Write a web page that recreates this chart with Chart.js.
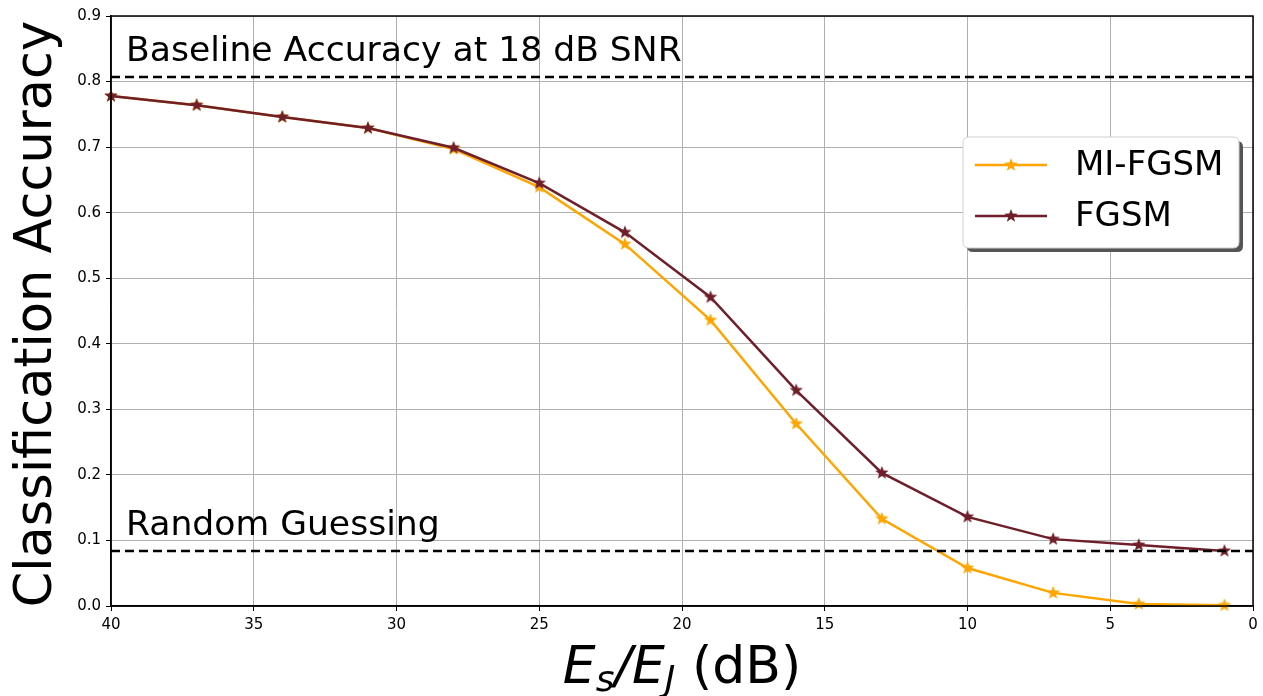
<!DOCTYPE html>
<html>
<head>
<meta charset="utf-8">
<script src="https://cdn.jsdelivr.net/npm/chart.js@4.4.0/dist/chart.umd.min.js"></script>
<style>
  html, body { margin: 0; padding: 0; background: #fff; }
  canvas { display: block; }
</style>
</head>
<body>
<canvas id="chart" width="1263" height="696"></canvas>
<script>
// values
const snrDb = [40, 37, 34, 31, 28, 25, 22, 19, 16, 13, 10, 7, 4, 1];
const miFgsm = [0.778, 0.764, 0.746, 0.729, 0.697, 0.639, 0.552, 0.436, 0.278, 0.133, 0.058, 0.020, 0.003, 0.001];
const fgsm = [0.778, 0.764, 0.746, 0.729, 0.699, 0.645, 0.570, 0.471, 0.329, 0.203, 0.136, 0.102, 0.093, 0.084];
const baselineAcc = 0.807;
const randomGuess = 1 / 12;

const ORANGE = '#ffa500';
const MAROON = '#6e1f2a';
const FONT = '"DejaVu Sans", sans-serif';

// filled five point star, like matplotlib's '*' marker
function starImage(color, r) {
  const size = Math.ceil(r * 2 + 2);
  const c = document.createElement('canvas');
  c.width = size;
  c.height = size;
  const g = c.getContext('2d');
  g.translate(size / 2, size / 2);
  g.beginPath();
  for (let i = 0; i < 10; i++) {
    const rad = i % 2 === 0 ? r : r * 0.42;
    const a = -Math.PI / 2 + i * Math.PI / 5;
    g.lineTo(rad * Math.cos(a), rad * Math.sin(a));
  }
  g.closePath();
  g.fillStyle = color;
  g.fill();
  return c;
}

const starOrange = starImage(ORANGE, 7);
const starMaroon = starImage(MAROON, 7);

const toPoints = ys => snrDb.map((x, i) => ({ x: x, y: ys[i] }));

/**
 * Extras that matplotlib draws and Chart.js does not:
 * reference lines with their captions, the closed frame,
 * the shadowed legend and the two axis titles.
 */
const decorations = {
  id: 'decorations',
  afterDatasetsDraw(chart) {
    const ctx = chart.ctx;
    const area = chart.chartArea;
    const ys = chart.scales.y;

    ctx.save();
    // dashed reference lines
    ctx.strokeStyle = '#000';
    ctx.lineWidth = 2.5;
    ctx.setLineDash([9, 5]);
    [baselineAcc, randomGuess].forEach(v => {
      const py = Math.round(ys.getPixelForValue(v));
      ctx.beginPath();
      ctx.moveTo(area.left, py);
      ctx.lineTo(area.right, py);
      ctx.stroke();
    });
    ctx.setLineDash([]);

    ctx.fillStyle = '#000';
    ctx.font = '34.6px ' + FONT;
    ctx.textAlign = 'left';
    ctx.textBaseline = 'alphabetic';
    ctx.fillText('Baseline Accuracy at 18 dB SNR', area.left + 15, ys.getPixelForValue(baselineAcc) - 16);
    ctx.fillText('Random Guessing', area.left + 15, ys.getPixelForValue(randomGuess) - 16);

    // frame
    ctx.lineWidth = 1.5;
    ctx.strokeStyle = '#000';
    ctx.strokeRect(area.left, area.top, area.right - area.left, area.bottom - area.top);

    // legend
    const lx = 963, ly = 137, lw = 276, lh = 111;
    ctx.fillStyle = '#555';
    roundRect(ctx, lx + 4, ly + 4, lw, lh, 6);
    ctx.fill();
    ctx.fillStyle = '#fff';
    ctx.strokeStyle = '#d0d0d0';
    ctx.lineWidth = 1;
    roundRect(ctx, lx, ly, lw, lh, 6);
    ctx.fill();
    ctx.stroke();

    const entries = [
      { label: 'MI-FGSM', color: ORANGE, star: starOrange, y: 165 },
      { label: 'FGSM', color: MAROON, star: starMaroon, y: 216 }
    ];
    ctx.font = '34px ' + FONT;
    ctx.textBaseline = 'middle';
    entries.forEach(e => {
      ctx.strokeStyle = e.color;
      ctx.lineWidth = 2.5;
      ctx.beginPath();
      ctx.moveTo(975, e.y);
      ctx.lineTo(1047, e.y);
      ctx.stroke();
      ctx.drawImage(e.star, 1011 - e.star.width / 2, e.y - e.star.height / 2);
      ctx.fillStyle = '#000';
      ctx.fillText(e.label, 1075, e.y + 1);
    });

    // y axis title
    ctx.save();
    ctx.translate(51, (area.top + area.bottom) / 2 + 3);
    ctx.rotate(-Math.PI / 2);
    ctx.font = '51px ' + FONT;
    ctx.textAlign = 'center';
    ctx.textBaseline = 'alphabetic';
    ctx.fillText('Classification Accuracy', 0, 0);
    ctx.restore();

    // x axis title: E_s/E_J (dB)
    const parts = [
      { t: 'E', font: 'italic 52px ' + FONT, dy: 0 },
      { t: 's', font: 'italic 36px ' + FONT, dy: 8 },
      { t: '/', font: 'italic 52px ' + FONT, dy: 0 },
      { t: 'E', font: 'italic 52px ' + FONT, dy: 0 },
      { t: 'J', font: 'italic 36px ' + FONT, dy: 8 },
      { t: ' (dB)', font: '52px ' + FONT, dy: 0 }
    ];
    let total = 0;
    parts.forEach(p => { ctx.font = p.font; p.w = ctx.measureText(p.t).width; total += p.w; });
    let x = (area.left + area.right) / 2 - total / 2;
    ctx.textAlign = 'left';
    ctx.textBaseline = 'alphabetic';
    parts.forEach(p => {
      ctx.font = p.font;
      ctx.fillText(p.t, x, 683 + p.dy);
      x += p.w;
    });
    ctx.restore();
  }
};

function roundRect(ctx, x, y, w, h, r) {
  ctx.beginPath();
  ctx.moveTo(x + r, y);
  ctx.lineTo(x + w - r, y);
  ctx.quadraticCurveTo(x + w, y, x + w, y + r);
  ctx.lineTo(x + w, y + h - r);
  ctx.quadraticCurveTo(x + w, y + h, x + w - r, y + h);
  ctx.lineTo(x + r, y + h);
  ctx.quadraticCurveTo(x, y + h, x, y + h - r);
  ctx.lineTo(x, y + r);
  ctx.quadraticCurveTo(x, y, x + r, y);
  ctx.closePath();
}

new Chart(document.getElementById('chart').getContext('2d'), {
  type: 'line',
  data: {
    datasets: [
      {
        label: 'MI-FGSM',
        data: toPoints(miFgsm),
        borderColor: ORANGE,
        backgroundColor: ORANGE,
        borderWidth: 2.5,
        pointStyle: starOrange,
        tension: 0,
        order: 2
      },
      {
        label: 'FGSM',
        data: toPoints(fgsm),
        borderColor: MAROON,
        backgroundColor: MAROON,
        borderWidth: 2.5,
        pointStyle: starMaroon,
        tension: 0,
        order: 1
      }
    ]
  },
  options: {
    responsive: false,
    animation: false,
    clip: false,
    layout: { padding: { top: 16, right: 10, left: 0, bottom: 0 } },
    plugins: {
      legend: { display: false },
      tooltip: { enabled: false }
    },
    scales: {
      x: {
        type: 'linear',
        reverse: true,
        min: 0,
        max: 40,
        ticks: {
          stepSize: 5,
          color: '#000',
          font: { family: FONT, size: 15 },
          padding: 5,
          maxRotation: 0
        },
        grid: { color: '#b0b0b0', lineWidth: 1, tickColor: '#000', tickLength: 5 },
        border: { color: '#000', width: 1.5 },
        afterFit: s => { s.height = 90; }
      },
      y: {
        min: 0,
        max: 0.9,
        ticks: {
          stepSize: 0.1,
          color: '#000',
          font: { family: FONT, size: 15 },
          padding: 5,
          callback: v => v.toFixed(1)
        },
        grid: { color: '#b0b0b0', lineWidth: 1, tickColor: '#000', tickLength: 5 },
        border: { color: '#000', width: 1.5 },
        afterFit: s => { s.width = 111; }
      }
    }
  },
  plugins: [decorations]
});
</script>
</body>
</html>
